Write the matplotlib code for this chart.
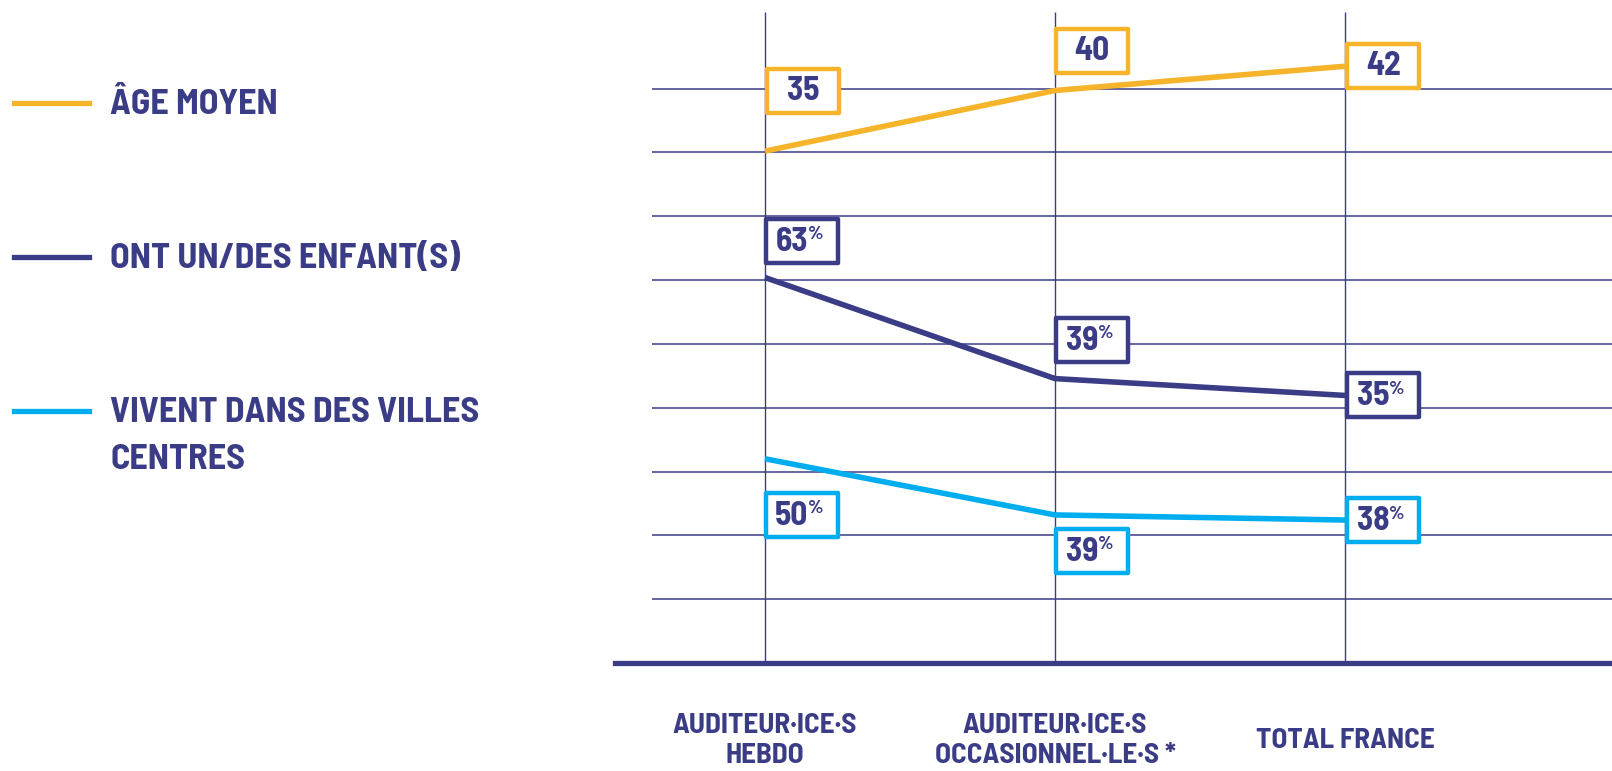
import matplotlib
matplotlib.use("Agg")
import matplotlib.pyplot as plt
import matplotlib.transforms as mtransforms
from matplotlib.path import Path
import numpy as np

# data
categories = ["AUDITEUR·ICE·S\nHEBDO", "AUDITEUR·ICE·S\nOCCASIONNEL·LE·S *", "TOTAL FRANCE"]
age_moyen = [35, 40, 42]
enfants = [63, 39, 35]
villes_centres = [50, 39, 38]
series_names = ["ÂGE MOYEN", "ONT UN/DES ENFANT(S)", "VIVENT DANS DES VILLES\nCENTRES"]

NAVY = "#3b3c86"
ORANGE = "#f5b42a"
CYAN = "#00aeef"

plt.rcParams["font.family"] = ["Barlow Semi Condensed", "Barlow Condensed", "Roboto Condensed",
                               "Archivo Narrow", "DejaVu Sans"]

W, H = 1612, 771
fig = plt.figure(figsize=(W / 100, H / 100), dpi=100)
ax = fig.add_axes([615 / W, (H - 663) / H, (W - 615) / W, (663 - 12) / H])
TOP = 10.2
ax.set_xlim(-0.517, 2.92)
ax.set_ylim(0, TOP)

# grid
ax.hlines(np.arange(1, 10), -0.39, 2.92, color=NAVY, lw=1.1, zorder=1)
ax.vlines(range(len(categories)), 0, TOP, color=NAVY, lw=1.0, zorder=1)
for s in ["top", "right", "left"]:
    ax.spines[s].set_visible(False)
ax.spines["bottom"].set_color(NAVY)
ax.spines["bottom"].set_linewidth(3.8)
ax.set_yticks([])
ax.set_xticks(range(len(categories)))
ax.set_xticklabels(categories, fontsize=21, fontweight="bold", color=NAVY, linespacing=1.25)
ax.tick_params(axis="x", length=0, pad=56)
for lab in ax.get_xticklabels():
    lab.set_va("center")

# each series on its own band: (value anchor, position, scale)
bands = [(35, 8.02, 0.19), (63, 6.04, 0.066), (50, 3.2, 0.08)]
series = [age_moyen, enfants, villes_centres]
colors = [ORANGE, NAVY, CYAN]
pct = [False, True, True]
# label box offsets (pixels) from each point
offsets = [
    [(38, 60), (37, 40), (38, 0)],
    [(37, 37), (37, 39), (38, 0)],
    [(37, -56), (37, -36), (38, 0)],
]

bw, bh = 72, 44
box = Path([(-0.5, -0.5 * bh / bw), (0.5, -0.5 * bh / bw), (0.5, 0.5 * bh / bw),
            (-0.5, 0.5 * bh / bw), (-0.5, -0.5 * bh / bw)], closed=True)

x = np.arange(len(categories))
for vals, (v0, u0, sc), col, is_pct, offs in zip(series, bands, colors, pct, offsets):
    tw = ax.twinx()
    tw.set_ylim(v0 - u0 / sc, v0 + (TOP - u0) / sc)
    tw.axis("off")
    tw.plot(x, vals, color=col, lw=4, solid_capstyle="butt", zorder=2)
    for xi, v, (dx, dy) in zip(x, vals, offs):
        tr = mtransforms.offset_copy(tw.transData, fig=fig, x=dx, y=dy, units="dots")
        tw.plot([xi], [v], marker=box, markersize=bw * 0.72, markerfacecolor="white",
                markeredgecolor=col, markeredgewidth=3.2, transform=tr, zorder=3)
        if is_pct:
            tr1 = mtransforms.offset_copy(tw.transData, fig=fig, x=dx + 6, y=dy - 1, units="dots")
            tw.text(xi, v, str(v), transform=tr1, ha="right", va="center", fontsize=24,
                    fontweight="bold", color=NAVY, zorder=4)
            tr2 = mtransforms.offset_copy(tw.transData, fig=fig, x=dx + 6, y=dy + 6, units="dots")
            tw.text(xi, v, "%", transform=tr2, ha="left", va="center", fontsize=14,
                    fontweight="bold", color=NAVY, zorder=4)
        else:
            tw.text(xi, v, str(v), transform=tr, ha="center", va="center", fontsize=24,
                    fontweight="bold", color=NAVY, zorder=4)

# legend on the left
leg_y = [103, 257, 411]
for name, col, yy in zip(series_names, colors, leg_y):
    fig.add_artist(plt.Line2D([14 / W, 89 / W], [1 - yy / H, 1 - yy / H], color=col, lw=3.8,
                              transform=fig.transFigure))
    for k, part in enumerate(name.split("\n")):
        fig.text(110 / W, 1 - (yy + 2 + 47 * k) / H, part, ha="left", va="center",
                 fontsize=26, fontweight="bold", color=NAVY)

fig.savefig("out.png", dpi=100)
